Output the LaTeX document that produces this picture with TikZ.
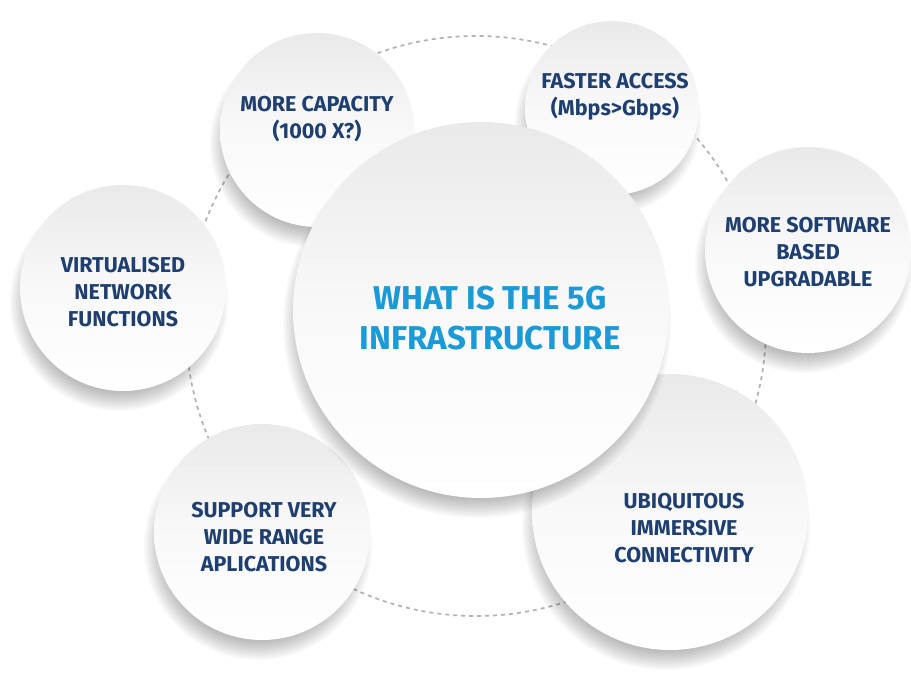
\documentclass[tikz,border=0pt]{standalone}
\usepackage{fontspec}
\setmainfont{Fira Sans}
\definecolor{navy}{HTML}{1E3F6F}
\definecolor{skyblue}{HTML}{1B9AD6}
% soft drop shadow under a disc: centre coordinate #1, radius #2 (in pt)
\newcommand{\discshadow}[2]{%
  \foreach \k in {0,...,11}
    \fill[black, opacity=0.028] ([shift={(-4pt,-14pt)}]#1)
      circle [radius={(#2+6-2*\k)*1pt}];%
}
\begin{document}
\begin{tikzpicture}[x=1pt,y=-1pt,
  bubble/.style={circle, inner sep=0pt, minimum size=#1,
    top color=gray!17, bottom color=white, middle color=gray!5},
  txt/.style={text=navy, font=\bfseries\fontsize{21.5}{27}\selectfont, align=center},
  coretxt/.style={text=skyblue, font=\bfseries\fontsize{33}{40}\selectfont, align=center},
  dashring/.style={draw=gray!60, line width=1.7pt, dash pattern=on 4pt off 4pt}
]
\useasboundingbox (0,0) rectangle (911,697);
\fill[white] (0,0) rectangle (911,697);

% bubble centres
\coordinate (hub) at (476,326);
\coordinate (pvirt) at (123,288);
\coordinate (pcap)  at (317,130);
\coordinate (pfast) at (612,108);
\coordinate (psoft) at (808,250);
\coordinate (psupp) at (262,532);
\coordinate (pubiq) at (670,512);
\coordinate (pcore) at (481,310);

% dashed orbit behind the bubbles
\draw[dashring] (hub) circle [radius=290pt];

% satellite bubbles with their shadows
\discshadow{pvirt}{103}
\discshadow{pcap}{97}
\discshadow{pfast}{87}
\discshadow{psoft}{103}
\discshadow{psupp}{108}
\discshadow{pubiq}{138}
\node[bubble=206pt] (virt) at (pvirt) {};
\node[bubble=194pt] (cap)  at (pcap)  {};
\node[bubble=174pt] (fast) at (pfast) {};
\node[bubble=206pt] (soft) at (psoft) {};
\node[bubble=216pt] (supp) at (psupp) {};
\node[bubble=276pt] (ubiq) at (pubiq) {};

% central bubble on top
\discshadow{pcore}{188}
\node[bubble=376pt] (core) at (pcore) {};

% captions
\node[txt] (tcap)  at (317,119) {MORE CAPACITY\\(1000 X?)};
\node[txt] (tfast) at (615,97)  {FASTER ACCESS\\(Mbps>Gbps)};
\node[txt] (tsoft) at (808,252) {MORE SOFTWARE\\BASED\\UPGRADABLE};
\node[txt] (tvirt) at (123,292) {VIRTUALISED\\NETWORK\\FUNCTIONS};
\node[txt] (tsupp) at (264,537) {SUPPORT VERY\\WIDE RANGE\\APLICATIONS};
\node[txt] (tubiq) at (684,528) {UBIQUITOUS\\IMMERSIVE\\CONNECTIVITY};
\node[coretxt] (tcore) at (490,318) {WHAT IS THE 5G\\INFRASTRUCTURE};
\end{tikzpicture}
\end{document}
